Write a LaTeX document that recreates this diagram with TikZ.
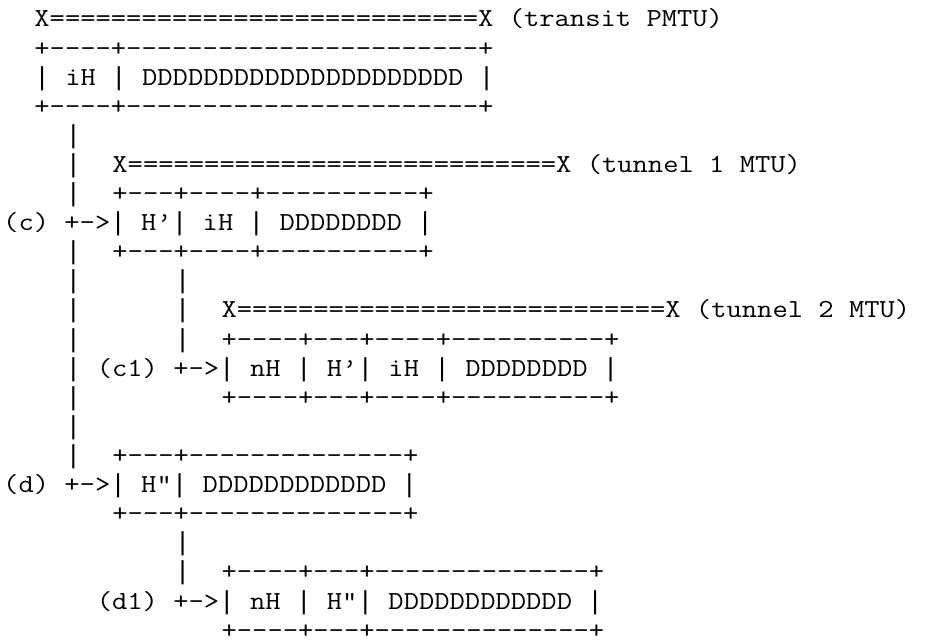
\documentclass[tikz,border=0pt]{standalone}
\usepackage{fontspec}
\newfontfamily\asciifont{Latin Modern Mono}[FakeStretch=1.142857]
\newfontfamily\barfont{Liberation Mono}
\newcommand\vb{{\barfont|}}
\ExplSyntaxOn
\cs_new:Npn \repch #1#2 { \prg_replicate:nn {#1} {#2} }
\ExplSyntaxOff
\begin{document}
\begin{tikzpicture}[x=11.7pt,y=-21.825pt,
  asc/.style={inner sep=0pt, outer sep=0pt, anchor=base west, text=black,
    font=\asciifont\fontsize{19.5pt}{21.8pt}\selectfont}]
\useasboundingbox (0,0) rectangle (59.423,22.096);
\begin{scope}[shift={(0.2051,-0.0722)}]
% transit packet
\node[asc] (l1)  at (2,1) {X\repch{28}{=}X (transit PMTU)};
\node[asc] (l2)  at (2,2) {+\repch{4}{-}+\repch{23}{-}+};
\node[asc] (l3)  at (2,3) {\vb{} iH \vb{} \repch{21}{D} \vb};
\node[asc] (l4)  at (2,4) {+\repch{4}{-}+\repch{23}{-}+};
\node[asc] (l5)  at (4,5) {\vb};
% tunnel 1
\node[asc] (l6a) at (4,6) {\vb};
\node[asc] (l6b) at (7,6) {X\repch{28}{=}X (tunnel 1 MTU)};
\node[asc] (l7a) at (4,7) {\vb};
\node[asc] (l7b) at (7,7) {+\repch{3}{-}+\repch{4}{-}+\repch{10}{-}+};
\node[asc] (l8)  at (0,8) {(c) +->\vb{} H’\vb{} iH \vb{} \repch{8}{D} \vb};
\node[asc] (l9a) at (4,9) {\vb};
\node[asc] (l9b) at (7,9) {+\repch{3}{-}+\repch{4}{-}+\repch{10}{-}+};
% tunnel 2
\node[asc] (l10a) at (4,10) {\vb};
\node[asc] (l10b) at (11,10) {\vb};
\node[asc] (l11a) at (4,11) {\vb};
\node[asc] (l11b) at (11,11) {\vb};
\node[asc] (l11c) at (14,11) {X\repch{28}{=}X (tunnel 2 MTU)};
\node[asc] (l12a) at (4,12) {\vb};
\node[asc] (l12b) at (11,12) {\vb};
\node[asc] (l12c) at (14,12) {+\repch{4}{-}+\repch{3}{-}+\repch{4}{-}+\repch{10}{-}+};
\node[asc] (l13a) at (4,13) {\vb};
\node[asc] (l13b) at (6,13) {(c1) +->\vb{} nH \vb{} H’\vb{} iH \vb{} \repch{8}{D} \vb};
\node[asc] (l14a) at (4,14) {\vb};
\node[asc] (l14b) at (14,14) {+\repch{4}{-}+\repch{3}{-}+\repch{4}{-}+\repch{10}{-}+};
\node[asc] (l15)  at (4,15) {\vb};
% (d) branch
\node[asc] (l16a) at (4,16) {\vb};
\node[asc] (l16b) at (7,16) {+\repch{3}{-}+\repch{14}{-}+};
\node[asc] (l17)  at (0,17) {(d) +->\vb{} H"\vb{} \repch{12}{D} \vb};
\node[asc] (l18)  at (7,18) {+\repch{3}{-}+\repch{14}{-}+};
\node[asc] (l19)  at (11,19) {\vb};
\node[asc] (l20a) at (11,20) {\vb};
\node[asc] (l20b) at (14,20) {+\repch{4}{-}+\repch{3}{-}+\repch{14}{-}+};
\node[asc] (l21)  at (6,21) {(d1) +->\vb{} nH \vb{} H"\vb{} \repch{12}{D} \vb};
\node[asc] (l22)  at (14,22) {+\repch{4}{-}+\repch{3}{-}+\repch{14}{-}+};
\end{scope}
\end{tikzpicture}
\end{document}
